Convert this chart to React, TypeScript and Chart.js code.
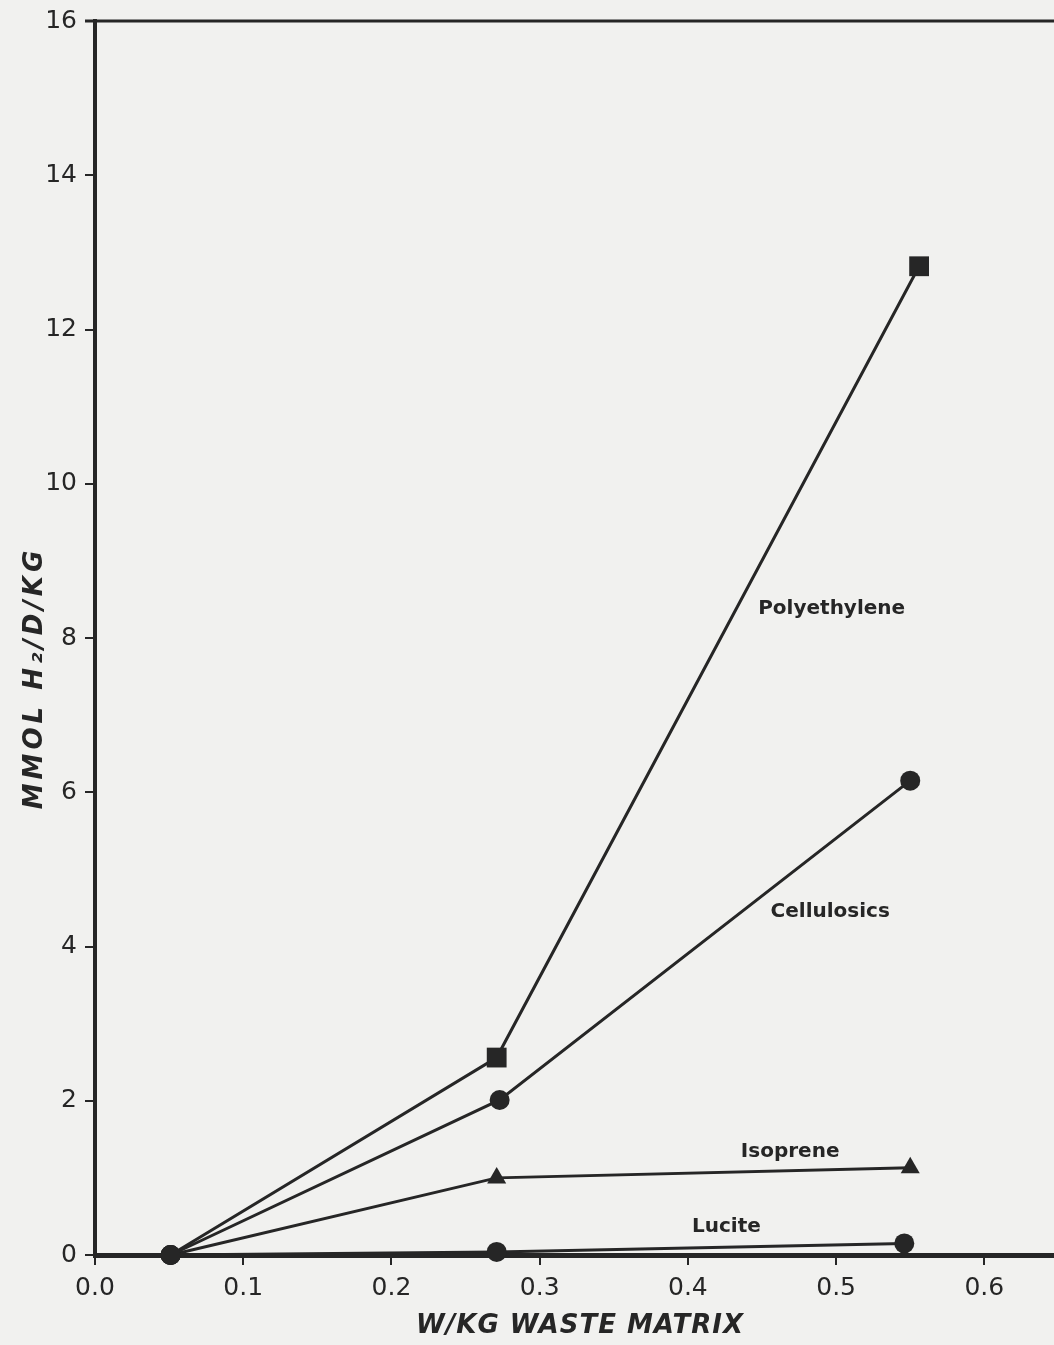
import React, { useEffect, useRef } from "react";
import { Chart, registerables } from "chart.js";

Chart.register(...registerables);

const seriesNames = ["Polyethylene", "Cellulosics", "Isoprene", "Lucite"];
const polyX = [0.051, 0.271, 0.556];
const polyY = [0, 2.56, 12.82];
const celluX = [0.051, 0.273, 0.55];
const celluY = [0, 2.01, 6.15];
const isoX = [0.051, 0.271, 0.55];
const isoY = [0, 1.0, 1.13];
const luciteX = [0.051, 0.271, 0.546];
const luciteY = [0, 0.04, 0.15];
const markerStyles = ["rect", "circle", "triangle", "circle"];
const markerRadius = [14, 10, 11, 10];
const drawOrder = [4, 2, 3, 1];
const labelX = [0.497, 0.496, 0.469, 0.426];
const labelY = [8.38, 4.45, 1.34, 0.36];
const xTicks = [0, 0.1, 0.2, 0.3, 0.4, 0.5, 0.6];
const yTicks = [0, 2, 4, 6, 8, 10, 12, 14, 16];
const xTitle = "W/KG WASTE MATRIX";
const yTitle = "MMOL H\u2082/D/KG";

const INK = "#262626";

const zip = (xs: number[], ys: number[]) => xs.map((x, i) => ({ x, y: ys[i] }));

const labelPlugin = {
  id: "seriesLabels",
  afterDatasetsDraw(chart: any) {
    const { ctx, scales } = chart;
    ctx.save();
    ctx.fillStyle = INK;
    ctx.font = "bold 20px 'DejaVu Sans'";
    ctx.textAlign = "center";
    ctx.textBaseline = "middle";
    seriesNames.forEach((name, i) => {
      ctx.fillText(name, scales.x.getPixelForValue(labelX[i]), scales.y.getPixelForValue(labelY[i]));
    });
    ctx.restore();
  },
};

const framePlugin = {
  id: "frame",
  afterDraw(chart: any) {
    const { ctx, chartArea } = chart;
    ctx.save();
    ctx.strokeStyle = INK;
    ctx.lineWidth = 3;
    ctx.beginPath();
    ctx.moveTo(chartArea.left - 10, chartArea.top);
    ctx.lineTo(chart.width, chartArea.top);
    ctx.stroke();
    // axis titles
    ctx.fillStyle = INK;
    ctx.textAlign = "center";
    ctx.textBaseline = "middle";
    ctx.font = "italic bold 26px 'DejaVu Sans'";
    (ctx as any).letterSpacing = "1px";
    ctx.fillText(xTitle, 580, 1326);
    ctx.translate(35, 678);
    ctx.rotate(-Math.PI / 2);
    (ctx as any).letterSpacing = "4px";
    ctx.fillText(yTitle, 0, 0);
    ctx.restore();
  },
};

const bgPlugin = {
  id: "bg",
  beforeDraw(chart: any) {
    const { ctx } = chart;
    ctx.save();
    ctx.fillStyle = "#f1f1ef";
    ctx.fillRect(0, 0, chart.width, chart.height);
    ctx.restore();
  },
};

export default function App() {
  const ref = useRef<HTMLCanvasElement>(null);

  useEffect(() => {
    document.body.style.margin = "0";
    const xsList = [polyX, celluX, isoX, luciteX];
    const ysList = [polyY, celluY, isoY, luciteY];
    const chart = new Chart(ref.current as HTMLCanvasElement, {
      type: "scatter",
      data: {
        datasets: seriesNames.map((name, i) => ({
          label: name,
          data: zip(xsList[i], ysList[i]),
          order: drawOrder[i],
          showLine: true,
          borderColor: INK,
          backgroundColor: INK,
          borderWidth: 3,
          pointStyle: ((c: any) => (c.dataIndex === 0 ? "circle" : markerStyles[i])) as any,
          pointRadius: ((c: any) => (c.dataIndex === 0 ? 10 : markerRadius[i])) as any,
          pointBorderWidth: 0,
          pointBackgroundColor: INK,
          clip: false as any,
        })),
      },
      plugins: [bgPlugin, framePlugin, labelPlugin],
      options: {
        animation: false,
        responsive: false,
        maintainAspectRatio: false,
        layout: { autoPadding: false, padding: { top: 21, right: 0, left: 0, bottom: 0 } },
        plugins: { legend: { display: false }, tooltip: { enabled: false } },
        scales: {
          x: {
            type: "linear",
            min: 0,
            max: 0.647,
            afterFit: (s: any) => {
              s.height = 90;
              s.paddingRight = 0;
              s.paddingLeft = 0;
            },
            afterBuildTicks: (s: any) => { s.ticks = xTicks.map((v) => ({ value: v })); },
            ticks: {
              color: INK,
              font: { family: "'DejaVu Sans'", size: 25 },
              padding: 8,
              callback: (v: any) => Number(v).toFixed(1),
            },
            grid: { drawOnChartArea: false, drawTicks: true, tickLength: 10, color: INK, lineWidth: 2 },
            border: { display: true, color: INK, width: 5 },
          },
          y: {
            type: "linear",
            min: 0,
            max: 16,
            afterFit: (s: any) => {
              s.width = 95;
              s.paddingTop = 0;
              s.paddingBottom = 0;
            },
            afterBuildTicks: (s: any) => { s.ticks = yTicks.map((v) => ({ value: v })); },
            ticks: {
              color: INK,
              font: { family: "'DejaVu Sans'", size: 25 },
              padding: 8,
            },
            grid: { drawOnChartArea: false, drawTicks: true, tickLength: 10, color: INK, lineWidth: 2 },
            border: { display: true, color: INK, width: 4 },
          },
        },
      },
    });
    return () => chart.destroy();
  }, []);

  return (
    <div style={{ position: "absolute", left: 0, top: 0, width: 1054, height: 1345 }}>
      <canvas ref={ref} width={1054} height={1345} style={{ display: "block" }} />
    </div>
  );
}
